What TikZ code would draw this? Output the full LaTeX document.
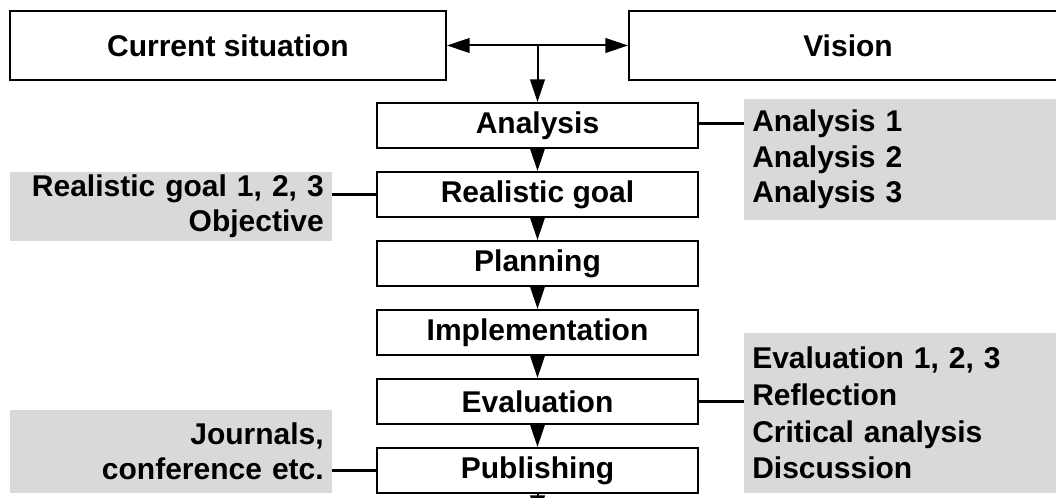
\documentclass[tikz,border=0pt]{standalone}
\usepackage{fontspec}
\setmainfont{Liberation Sans}
\usetikzlibrary{arrows.meta}
\definecolor{panel}{RGB}{217,217,217}
\begin{document}
\begin{tikzpicture}[x=0.75pt,y=-0.75pt,
  every node/.style={font=\fontsize{22.5pt}{26.5pt}\selectfont\bfseries},
  topbox/.style={draw,line width=1.5pt,minimum height=51.75pt,inner sep=0pt},
  stepbox/.style={draw,line width=1.5pt,minimum width=240.75pt,minimum height=33.75pt,inner sep=0pt},
  panelR/.style={fill=panel,anchor=west,inner xsep=6pt,inner ysep=0pt,text width=225pt,align=left},
  panelL/.style={fill=panel,anchor=east,inner xsep=6pt,inner ysep=0pt,text width=229.5pt,align=right},
  arr/.style={line width=1.5pt,-{Triangle[length=17pt,width=11pt]}},
  link/.style={line width=2.25pt}]
\useasboundingbox (0,0) rectangle (1056,498);
% top boxes
\node[topbox,minimum width=327pt] (cur) at (228,45.5) {Current situation};
\node[topbox,minimum width=328.5pt] (vis) at (848,45.5) {Vision};
% main steps
\node[stepbox] (an) at (537.5,125.5) {Analysis};
\node[stepbox] (rg) at (537.5,194.5) {Realistic goal};
\node[stepbox] (pl) at (537.5,263.5) {Planning};
\node[stepbox] (im) at (537.5,332.5) {Implementation};
\node[stepbox] (ev) at (537.5,401.5) {Evaluation};
\node[stepbox] (pu) at (537.5,470.5) {Publishing};
% side panels
\node[panelR,minimum height=90.75pt] (ga) at (744,159.5) {Analysis 1\\Analysis 2\\Analysis 3};
\node[panelR,minimum height=120pt,font=\fontsize{22.5pt}{27.5pt}\selectfont\bfseries] (ge) at (744,413) {Evaluation 1, 2, 3\\Reflection\\Critical analysis\\Discussion};
\node[panelL,minimum height=51.75pt] (gr) at (332,206.5) {Realistic goal 1, 2, 3\\Objective};
\node[panelL,minimum height=62.25pt] (gj) at (332,451.5) {Journals,\\conference etc.};
% top arrows
\coordinate (j) at (cur.east -| an.north);
\draw[arr] (j) -- (cur.east);
\draw[arr] (j) -- (vis.west);
\draw[arr] (j) -- (an.north);
% step arrows
\draw[arr] (an) -- (rg);
\draw[arr] (rg) -- (pl);
\draw[arr] (pl) -- (im);
\draw[arr] (im) -- (ev);
\draw[arr] (ev) -- (pu);
\coordinate (out) at ([yshift=-18pt]pu.south);
\draw[arr] (pu.south) -- (out);
% links
\draw[link] ([yshift=1.5pt]an.east) -- ([yshift=1.5pt]an.east -| ga.west);
\draw[link] (rg.west) -- (rg.west -| gr.east);
\draw[link] (ev.east) -- (ev.east -| ge.west);
\draw[link] (pu.west) -- (pu.west -| gj.east);
\end{tikzpicture}
\end{document}
